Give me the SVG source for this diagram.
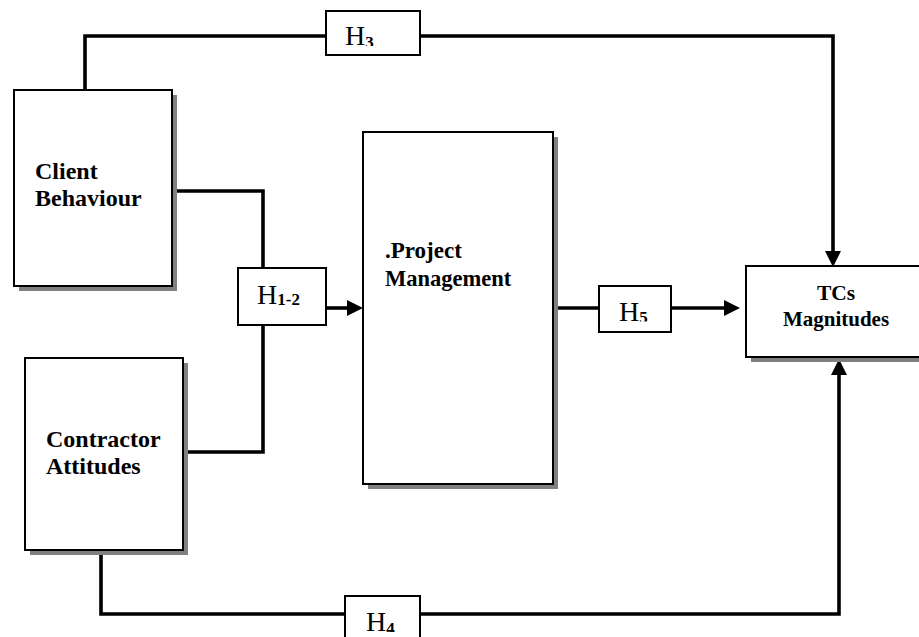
<svg xmlns="http://www.w3.org/2000/svg" width="919" height="637" viewBox="0 0 919 637">
<defs>
<style>
.box{fill:#fff;stroke:#000;stroke-width:2}
.shadow{fill:#808080;stroke:none}
.lbl{fill:#fff;stroke:#000;stroke-width:2}
.conn{fill:none;stroke:#000;stroke-width:3.6;stroke-linejoin:miter;stroke-linecap:butt}
.head{fill:#000;stroke:none}
.bt{font-family:"Liberation Serif","Times New Roman",serif;font-weight:bold;fill:#000}
.ht{font-family:"Liberation Serif","Times New Roman",serif;font-size:28px;fill:#000}
.sub{font-weight:bold;font-size:17px}
</style>
<clipPath id="c3"><rect x="326" y="11" width="94" height="35"/></clipPath>
<clipPath id="c5"><rect x="599" y="286" width="72" height="35.5"/></clipPath>
<clipPath id="c4"><rect x="345" y="596" width="75" height="36"/></clipPath>
</defs>
<rect width="919" height="637" fill="#fff"/>

<g id="connectors">
<path class="conn" d="M85,90 V36 H326"/>
<path class="conn" d="M420,36 H833 V252"/>
<polygon class="head" points="825,251 841,251 833,267"/>
<path class="conn" d="M172,191 H263 V268"/>
<path class="conn" d="M183,452 H263 V325"/>
<path class="conn" d="M326,308 H348"/>
<polygon class="head" points="347,300 347,316 363,308"/>
<path class="conn" d="M553,308 H599"/>
<path class="conn" d="M671,308 H725"/>
<polygon class="head" points="724,300 724,316 740,308"/>
<path class="conn" d="M101,550 V614 H345"/>
<path class="conn" d="M420,614 H839 V374"/>
<polygon class="head" points="831,375 847,375 839,359"/>
</g>

<g id="client">
<rect class="shadow" x="19" y="95" width="158" height="196"/>
<rect class="box" x="14" y="90" width="158" height="196"/>
<text class="bt" font-size="24" x="35" y="179">Client</text>
<text class="bt" font-size="24" x="35" y="206">Behaviour</text>
</g>

<g id="contractor">
<rect class="shadow" x="30" y="363" width="158" height="192"/>
<rect class="box" x="25" y="358" width="158" height="192"/>
<text class="bt" font-size="24" x="46" y="447">Contractor</text>
<text class="bt" font-size="24" x="46" y="474">Attitudes</text>
</g>

<g id="project">
<rect class="shadow" x="368" y="137" width="190" height="352"/>
<rect class="box" x="363" y="132" width="190" height="352"/>
<text class="bt" font-size="23" x="385" y="258">.Project</text>
<text class="bt" font-size="22.5" x="385" y="286">Management</text>
</g>

<g id="tcs">
<rect class="shadow" x="751" y="271" width="190" height="91"/>
<rect class="box" x="746" y="266" width="190" height="91"/>
<text class="bt" font-size="21.5" x="836" y="300" text-anchor="middle">TCs</text>
<text class="bt" font-size="21" x="836" y="326" text-anchor="middle">Magnitudes</text>
</g>

<g id="h3">
<rect class="lbl" x="326" y="11" width="94" height="44"/>
<text class="ht" x="345" y="45" clip-path="url(#c3)">H<tspan class="sub" dy="2.5">3</tspan></text>
</g>

<g id="h12">
<rect class="lbl" x="238" y="268" width="88" height="57"/>
<text class="ht" x="257" y="304">H<tspan class="sub" dy="1">1-2</tspan></text>
</g>

<g id="h5">
<rect class="lbl" x="599" y="286" width="72" height="46"/>
<text class="ht" x="619" y="320.5" clip-path="url(#c5)">H<tspan class="sub" dy="2.5">5</tspan></text>
</g>

<g id="h4">
<rect class="lbl" x="345" y="596" width="75" height="50"/>
<text class="ht" x="366" y="631" clip-path="url(#c4)">H<tspan class="sub" dy="2.5">4</tspan></text>
</g>
</svg>
